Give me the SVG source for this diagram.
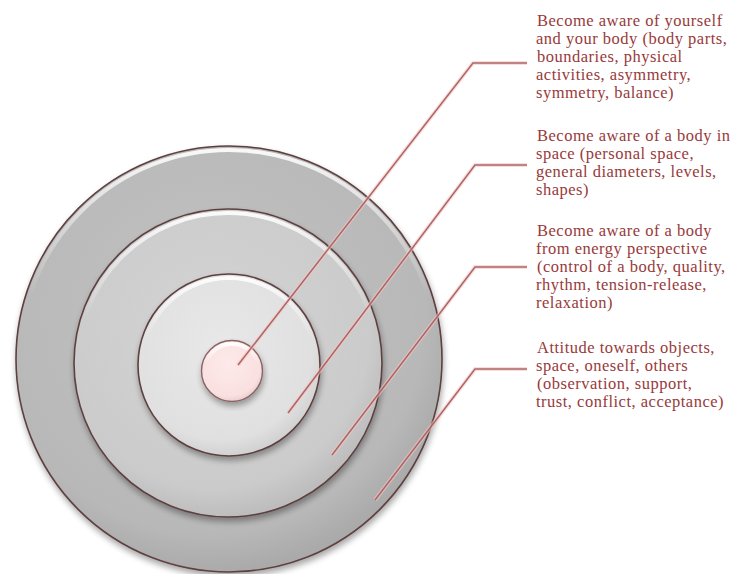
<svg xmlns="http://www.w3.org/2000/svg" width="738" height="574" viewBox="0 0 738 574">
  <defs>
    <style>
      .lbl { font-family: "Liberation Serif", "Times New Roman", serif; font-size: 16.5px; letter-spacing: 0.5px; fill: #983a3a; }
      .disc { stroke: #5e4040; stroke-width: 1.6; }
      .hl { fill: none; stroke: url(#hlGrad); stroke-width: 4; }
      .conn { fill: none; stroke: #b06464; stroke-width: 1.5; }
      .connGlow { fill: none; stroke: #f0c8c8; stroke-width: 4; opacity: 0.6; }
    </style>
    <linearGradient id="hlGrad" x1="0" y1="0" x2="0" y2="1">
      <stop offset="0" stop-color="#ffffff" stop-opacity="0.9"/>
      <stop offset="0.35" stop-color="#ffffff" stop-opacity="0"/>
      <stop offset="1" stop-color="#ffffff" stop-opacity="0"/>
    </linearGradient>
    <radialGradient id="gOuter" cx="0.45" cy="0.4" r="0.6">
      <stop offset="0" stop-color="#c2c2c2"/>
      <stop offset="0.85" stop-color="#b8b8b8"/>
      <stop offset="1" stop-color="#aaaaaa"/>
    </radialGradient>
    <radialGradient id="gMiddle" cx="0.45" cy="0.4" r="0.6">
      <stop offset="0" stop-color="#d4d4d4"/>
      <stop offset="0.85" stop-color="#cbcbcb"/>
      <stop offset="1" stop-color="#bdbdbd"/>
    </radialGradient>
    <radialGradient id="gInner" cx="0.45" cy="0.4" r="0.6">
      <stop offset="0" stop-color="#e8e8e8"/>
      <stop offset="0.85" stop-color="#e0e0e0"/>
      <stop offset="1" stop-color="#d2d2d2"/>
    </radialGradient>
    <radialGradient id="gCore" cx="0.45" cy="0.4" r="0.6">
      <stop offset="0" stop-color="#fdeaea"/>
      <stop offset="0.85" stop-color="#fae0e0"/>
      <stop offset="1" stop-color="#ecd0d0"/>
    </radialGradient>
    <filter id="shadow" x="-10%" y="-10%" width="120%" height="125%">
      <feGaussianBlur in="SourceAlpha" stdDeviation="3"/>
      <feOffset dx="1" dy="4" result="b"/>
      <feComponentTransfer><feFuncA type="linear" slope="0.35"/></feComponentTransfer>
      <feMerge><feMergeNode/><feMergeNode in="SourceGraphic"/></feMerge>
    </filter>
  </defs>
  <rect width="738" height="574" fill="#ffffff"/>

  <g id="ring-outer" filter="url(#shadow)">
    <circle cx="229" cy="359" r="213" fill="url(#gOuter)" class="disc"/>
    <circle cx="229" cy="359" r="209" class="hl"/>
  </g>
  <g id="ring-middle" filter="url(#shadow)">
    <circle cx="228" cy="363" r="154" fill="url(#gMiddle)" class="disc"/>
    <circle cx="228" cy="363" r="150" class="hl"/>
  </g>
  <g id="ring-inner" filter="url(#shadow)">
    <circle cx="229" cy="365" r="91" fill="url(#gInner)" class="disc"/>
    <circle cx="229" cy="365" r="87" class="hl"/>
  </g>
  <g id="core" filter="url(#shadow)">
    <circle cx="232" cy="371" r="30.5" fill="url(#gCore)" stroke="#8a6464" stroke-width="1.4"/>
    <circle cx="232" cy="371" r="27" class="hl"/>
  </g>

  <g id="connectors">
    <polyline class="connGlow" points="238,365 473,63 527,63"/>
    <polyline class="connGlow" points="288,413 475,165 527,165"/>
    <polyline class="connGlow" points="332,455 475,267 527,267"/>
    <polyline class="connGlow" points="375,500 475,369 527,369"/>
    <polyline class="conn" points="238,365 473,63 527,63"/>
    <polyline class="conn" points="288,413 475,165 527,165"/>
    <polyline class="conn" points="332,455 475,267 527,267"/>
    <polyline class="conn" points="375,500 475,369 527,369"/>
  </g>

  <g id="label-1">
    <text class="lbl">
      <tspan x="537" y="26">Become aware of yourself</tspan>
      <tspan x="536" y="44">and your body (body parts,</tspan>
      <tspan x="537" y="62">boundaries, physical</tspan>
      <tspan x="536" y="80">activities, asymmetry,</tspan>
      <tspan x="536" y="98">symmetry, balance)</tspan>
    </text>
  </g>
  <g id="label-2">
    <text class="lbl">
      <tspan x="537" y="141">Become aware of a body in</tspan>
      <tspan x="536" y="159">space (personal space,</tspan>
      <tspan x="536" y="177">general diameters, levels,</tspan>
      <tspan x="536" y="195">shapes)</tspan>
    </text>
  </g>
  <g id="label-3">
    <text class="lbl">
      <tspan x="537" y="236">Become aware of a body</tspan>
      <tspan x="536" y="254">from energy perspective</tspan>
      <tspan x="537" y="272">(control of a body, quality,</tspan>
      <tspan x="536" y="290">rhythm, tension-release,</tspan>
      <tspan x="536" y="308">relaxation)</tspan>
    </text>
  </g>
  <g id="label-4">
    <text class="lbl">
      <tspan x="537" y="353">Attitude towards objects,</tspan>
      <tspan x="536" y="371">space, oneself, others</tspan>
      <tspan x="537" y="389">(observation, support,</tspan>
      <tspan x="536" y="407">trust, conflict, acceptance)</tspan>
    </text>
  </g>
</svg>
